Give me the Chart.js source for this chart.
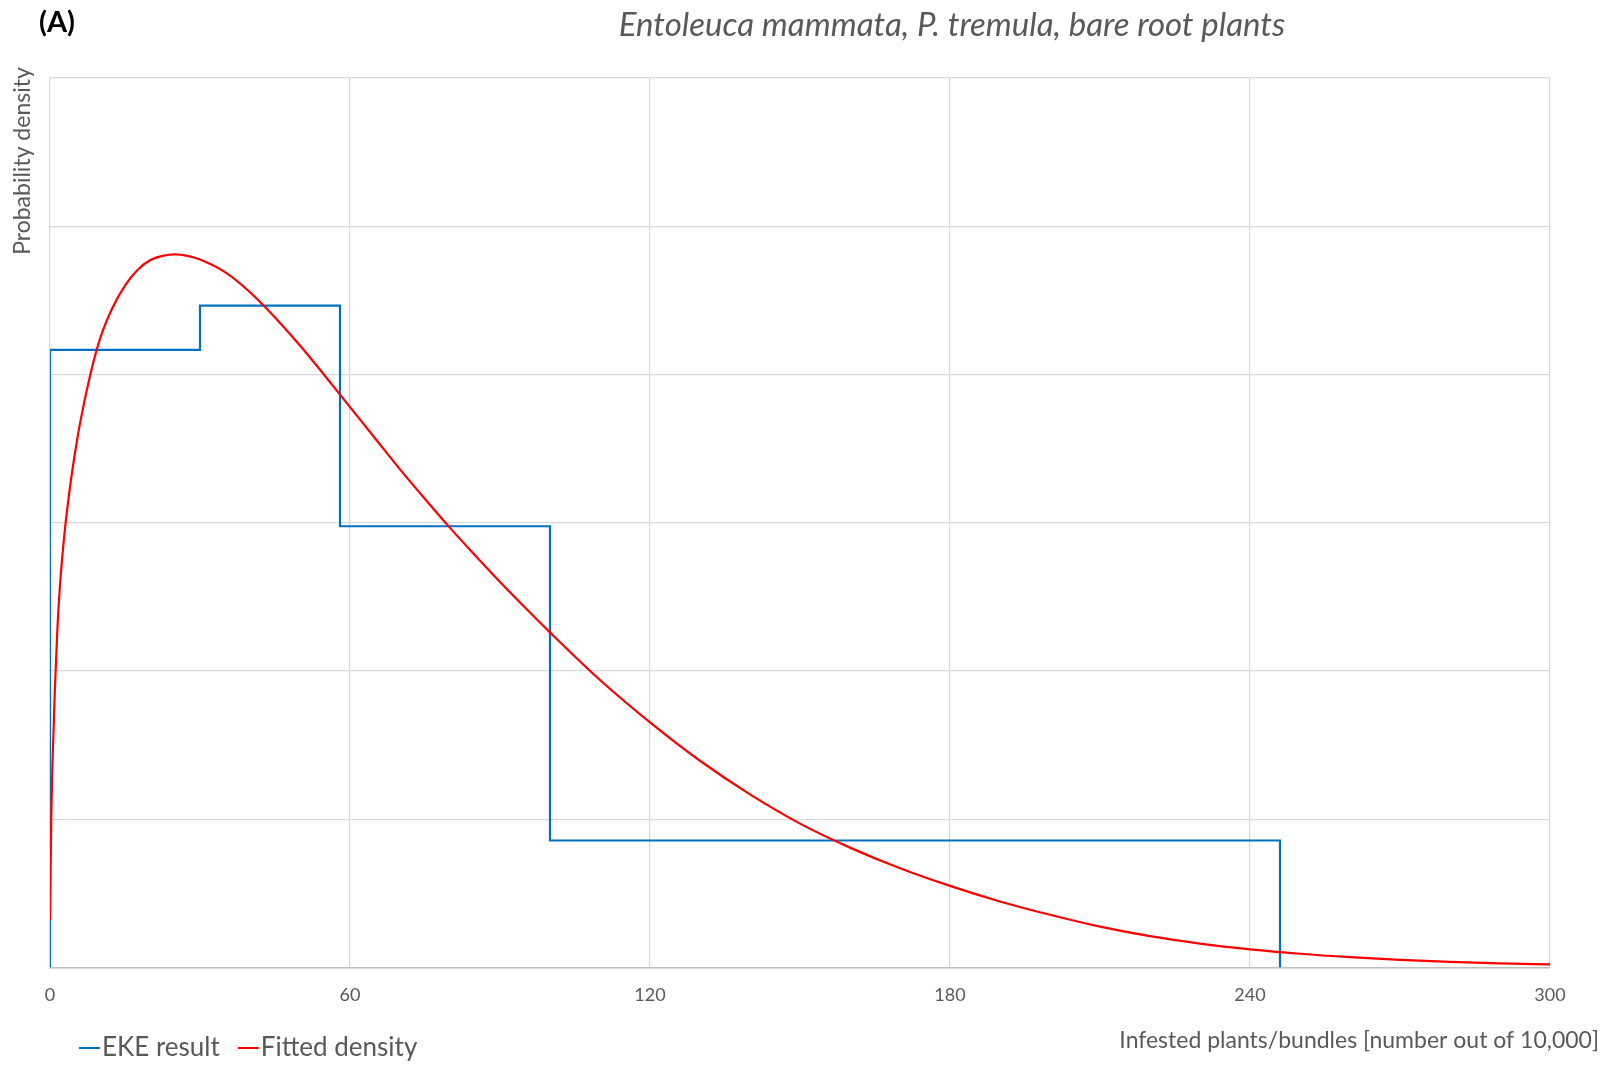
<!DOCTYPE html>
<html>
<head>
<meta charset="utf-8">
<script src="https://cdn.jsdelivr.net/npm/chart.js@4.4.1/dist/chart.umd.min.js"></script>
<style>
  html, body { margin: 0; padding: 0; background: #fff; }
  #wrap { position: relative; width: 1610px; height: 1065px; }
</style>
</head>
<body>
<div id="wrap"><canvas id="chart"></canvas></div>
<script>
// EKE quartile bins (edges) and their densities
const binEdges = [0, 30, 58, 100, 246];
const binDensity = [0.008333, 0.008929, 0.005952, 0.001712];

// fitted density curve
const fitX = [0, 0.25, 0.5, 1, 1.5, 2, 3, 4, 5, 6, 8, 10, 12.5, 15, 17.5, 20, 22.5, 25, 27.5, 30, 35, 40, 45, 50, 55, 60, 65, 70, 75, 80, 85, 90, 95, 100, 110, 120, 130, 140, 150, 160, 170, 180, 190, 200, 210, 220, 230, 240, 250, 260, 270, 280, 290, 300];
const fitY = [0.00064, 0.0020, 0.00276, 0.0038, 0.0046, 0.00516, 0.00592, 0.00648, 0.00694, 0.00734, 0.00798, 0.00848, 0.0089, 0.0092, 0.00941, 0.00954, 0.0096, 0.00962, 0.0096, 0.00955, 0.00938, 0.00911, 0.00877, 0.00839, 0.00798, 0.00756, 0.00714, 0.00672, 0.00632, 0.00593, 0.00556, 0.0052, 0.004856, 0.00452, 0.003878, 0.003306, 0.002788, 0.002334, 0.00194, 0.001616, 0.001338, 0.0011, 0.00089, 0.00071, 0.00055, 0.000422, 0.000322, 0.000244, 0.000184, 0.000138, 0.000102, 0.0000754, 0.0000554, 0.0000404];

const xTicks = [0, 60, 120, 180, 240, 300];

const panelLabel = '(A)';
const chartTitle = 'Entoleuca mammata, P. tremula, bare root plants';
const xTitle = 'Infested plants/bundles [number out of 10,000]';
const yTitle = 'Probability density';
const seriesNames = ['EKE result', 'Fitted density'];
const seriesColors = ['#0070C0', '#FF0000'];

const textColor = '#595959';
const fontFamily = 'Lato, "Open Sans", sans-serif';

// step outline of the histogram
function stepPoints() {
    const pts = [{ x: binEdges[0], y: 0 }];
    binDensity.forEach((d, i) => {
        pts.push({ x: binEdges[i], y: d });
        pts.push({ x: binEdges[i + 1], y: d });
    });
    pts.push({ x: binEdges[binEdges.length - 1], y: 0 });
    return pts;
}

const fitPoints = fitX.map((x, i) => ({ x: x, y: fitY[i] }));

// texts drawn around the plot
const textPlugin = {
    id: 'texts',
    afterDraw(chart) {
        const ctx = chart.ctx;
        ctx.save();
        ctx.fillStyle = '#000';
        ctx.textBaseline = 'middle';
        ctx.textAlign = 'left';
        ctx.font = 'bold 29px ' + fontFamily;
        ctx.fillText(panelLabel, 39, 23);

        ctx.fillStyle = textColor;
        ctx.textAlign = 'center';
        ctx.font = 'italic 33px ' + fontFamily;
        ctx.fillText(chartTitle, 952, 25);

        ctx.textAlign = 'right';
        ctx.font = '23px ' + fontFamily;
        ctx.fillText(xTitle, 1599, 1041);

        ctx.save();
        ctx.translate(23, 161);
        ctx.rotate(-Math.PI / 2);
        ctx.textAlign = 'center';
        ctx.font = '23px ' + fontFamily;
        ctx.fillText(yTitle, 0, 0);
        ctx.restore();

        // legend
        ctx.font = '26px ' + fontFamily;
        ctx.textAlign = 'left';
        let x = 79;
        const y = 1048;
        seriesNames.forEach((name, i) => {
            ctx.strokeStyle = seriesColors[i];
            ctx.lineWidth = 2;
            ctx.beginPath();
            ctx.moveTo(x, y);
            ctx.lineTo(x + 21, y);
            ctx.stroke();
            ctx.fillStyle = textColor;
            ctx.fillText(name, x + 23, y);
            x += 23 + ctx.measureText(name).width + 18;
        });
        ctx.restore();
    }
};

new Chart(document.getElementById('chart'), {
    type: 'line',
    data: {
        datasets: [
            {
                label: seriesNames[0],
                data: stepPoints(),
                borderColor: seriesColors[0],
                borderWidth: 2.2,
                pointRadius: 0,
                tension: 0,
                fill: false,
                order: 1
            },
            {
                label: seriesNames[1],
                data: fitPoints,
                borderColor: seriesColors[1],
                borderWidth: 2.2,
                pointRadius: 0,
                cubicInterpolationMode: 'monotone',
                fill: false,
                order: 0
            }
        ]
    },
    options: {
        responsive: true,
        maintainAspectRatio: false,
        animation: false,
        layout: { padding: { top: 78, left: 50, right: 60, bottom: 42 } },
        plugins: {
            legend: { display: false },
            title: { display: false },
            tooltip: { enabled: false }
        },
        scales: {
            x: {
                type: 'linear',
                min: 0,
                max: 300,
                afterBuildTicks: (axis) => { axis.ticks = xTicks.map(v => ({ value: v })); },
                ticks: {
                    color: textColor,
                    font: { family: fontFamily, size: 18 },
                    padding: 17
                },
                grid: { color: '#D9D9D9', lineWidth: 1.3, drawTicks: false },
                border: { color: '#BFBFBF', width: 1.6 }
            },
            y: {
                min: 0,
                max: 0.012,
                ticks: { display: false, stepSize: 0.002 },
                grid: { color: '#D9D9D9', lineWidth: 1.3, drawTicks: false },
                border: { display: false }
            }
        }
    },
    plugins: [textPlugin]
});
</script>
</body>
</html>
